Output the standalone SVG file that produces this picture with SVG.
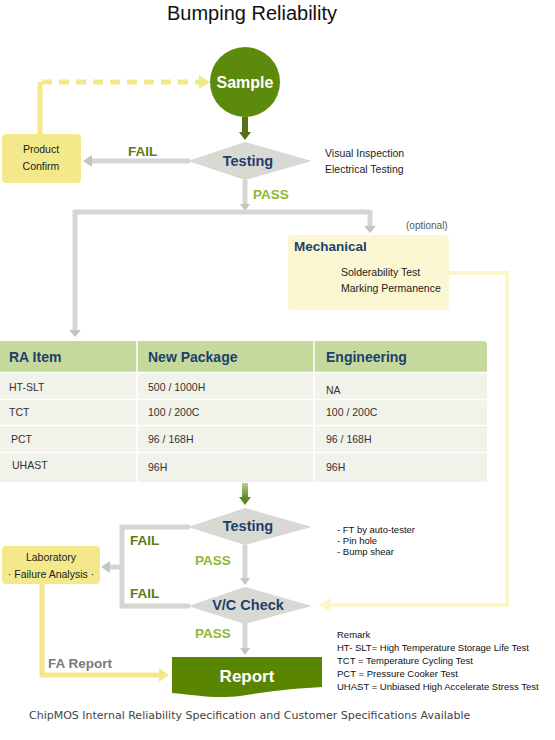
<svg xmlns="http://www.w3.org/2000/svg" width="555" height="740" viewBox="0 0 555 740">
<defs>
<style>
text{font-family:"Liberation Sans",Arial,sans-serif}
text.foot{font-family:"DejaVu Sans",Verdana,sans-serif;font-size:11px;fill:#444}
.dia{fill:#d9d9d3}
.dt{font-weight:bold;font-size:14.5px;fill:#1d3f6c;text-anchor:middle}
.fail{font-weight:bold;font-size:13.5px;fill:#5a7d14}
.pass{font-weight:bold;font-size:13.5px;fill:#8cb832}
.gl{stroke:#d5d5d1;stroke-width:5;fill:none}
.gh{fill:#c4c4c0}
.sm{font-size:10.5px;fill:#222}
.tiny{font-size:9.5px;fill:#111}
.th{font-weight:bold;font-size:14px;fill:#1d3f6c}
.td{font-size:10.5px;fill:#333}
.yb{fill:#f4e98a}
</style>
<linearGradient id="ga" x1="0" y1="0" x2="0" y2="1">
<stop offset="0" stop-color="#b9cf8a"/>
<stop offset="1" stop-color="#5f8a1f"/>
</linearGradient>
</defs>
<rect width="555" height="740" fill="#fff"/>
<text x="252" y="20" text-anchor="middle" fill="#111" style="font-size:20px">Bumping Reliability</text>

<g id="connectors">
<path d="M40,134 V82" stroke="#f4e98a" stroke-width="5" fill="none"/>
<path d="M42,82 H200" stroke="#f4e98a" stroke-width="5" fill="none" stroke-dasharray="10,7"/>
<polygon points="199,75 210,82 199,89" fill="#f4e98a"/>
<rect x="242" y="117" width="6" height="16" fill="#56701c"/>
<polygon points="239,132 251,132 245,140" fill="#56701c"/>
<path class="gl" d="M190,161 H92"/>
<polygon class="gh" points="92,155 83,161 92,167"/>
<path class="gl" d="M245,180 V205"/>
<polygon class="gh" points="240,204 250,204 245,211"/>
<path class="gl" d="M75,212 H370"/>
<path class="gl" d="M370,210 V226"/>
<polygon class="gh" points="364,226 376,226 370,233"/>
<path class="gl" d="M75,210 V330"/>
<polygon class="gh" points="69,330 81,330 75,337"/>
<path d="M449,273 H507 V605 H330" stroke="#fbf7cc" stroke-width="4" fill="none"/>
<polygon points="331,598 318,605 331,612" fill="#fbf7cc"/>
<rect x="242" y="483" width="6" height="15" fill="url(#ga)"/>
<polygon points="239,497 251,497 245,505" fill="#5f8a1f"/>
<path class="gl" d="M190,527 H122 V606 H190"/>
<path class="gl" d="M122,567 H110"/>
<polygon class="gh" points="110,561 101,567 110,573"/>
<path class="gl" d="M245,545 V579"/>
<polygon class="gh" points="240,578 250,578 245,585"/>
<path class="gl" d="M245,623 V649"/>
<polygon class="gh" points="240,648 250,648 245,655"/>
<path d="M42,584 V675 H160" stroke="#f4e98a" stroke-width="5" fill="none"/>
<polygon points="159,668 169,675 159,682" fill="#f4e98a"/>
</g>

<text class="fail" x="128" y="156">FAIL</text>
<text class="pass" x="253" y="199">PASS</text>
<text class="fail" x="130" y="545">FAIL</text>
<text class="pass" x="195" y="565">PASS</text>
<text class="fail" x="130" y="598">FAIL</text>
<text class="pass" x="195" y="638">PASS</text>
<text x="48" y="668" font-weight="bold" font-size="13.5" fill="#7a7a7a">FA Report</text>

<g id="sample">
<circle cx="245" cy="82" r="35" fill="#5b8a0c"/>
<text x="245" y="88" text-anchor="middle" font-weight="bold" font-size="16" fill="#fff">Sample</text>
</g>

<g id="product-confirm">
<rect class="yb" x="2" y="134" width="79" height="49" rx="4"/>
<text class="sm" x="41" y="153" text-anchor="middle">Product</text>
<text class="sm" x="41" y="170" text-anchor="middle">Confirm</text>
</g>

<g id="testing1">
<polygon class="dia" points="188,161 245,142 312,161 245,180"/>
<text class="dt" x="248" y="166">Testing</text>
</g>
<text class="sm" x="325" y="157">Visual Inspection</text>
<text class="sm" x="325" y="173">Electrical Testing</text>

<g id="mechanical">
<text x="406" y="229" font-size="10" fill="#555">(optional)</text>
<rect x="288" y="235" width="161" height="75" rx="4" fill="#faf7d2"/>
<text x="294" y="251" font-weight="bold" font-size="13.5" fill="#1d3f6c">Mechanical</text>
<text class="sm" x="341" y="276">Solderability Test</text>
<text class="sm" x="341" y="292">Marking Permanence</text>
</g>

<g id="ra-table">
<path d="M0,341 H483 Q487,341 487,345 V372 H0 Z" fill="#c6d99c"/>
<rect x="0" y="373" width="487" height="109" fill="#f1f2ea"/>
<g stroke="#fff" stroke-width="1.5">
<line x1="0" y1="399.5" x2="487" y2="399.5"/>
<line x1="0" y1="425.5" x2="487" y2="425.5"/>
<line x1="0" y1="452.5" x2="487" y2="452.5"/>
<line x1="0" y1="372.5" x2="487" y2="372.5"/>
<line x1="137" y1="341" x2="137" y2="482"/>
<line x1="314" y1="341" x2="314" y2="482"/>
</g>
<text class="th" x="9" y="362">RA Item</text>
<text class="th" x="148" y="362">New Package</text>
<text class="th" x="326" y="362">Engineering</text>
<text class="td" x="9" y="391">HT-SLT</text>
<text class="td" x="148" y="391">500 / 1000H</text>
<text class="td" x="326" y="394">NA</text>
<text class="td" x="9" y="416">TCT</text>
<text class="td" x="148" y="416">100 / 200C</text>
<text class="td" x="326" y="416">100 / 200C</text>
<text class="td" x="11" y="443">PCT</text>
<text class="td" x="148" y="443">96 / 168H</text>
<text class="td" x="326" y="443">96 / 168H</text>
<text class="td" x="12" y="469">UHAST</text>
<text class="td" x="148" y="471">96H</text>
<text class="td" x="326" y="471">96H</text>
</g>

<g id="testing2">
<polygon class="dia" points="188,527 245,508 312,527 245,545"/>
<text class="dt" x="248" y="531">Testing</text>
</g>
<text class="tiny" x="337" y="533">- FT by auto-tester</text>
<text class="tiny" x="337" y="544">- Pin hole</text>
<text class="tiny" x="337" y="555">- Bump shear</text>

<g id="vc-check">
<polygon class="dia" points="188,606 245,587 312,606 245,624"/>
<text class="dt" x="248" y="610">V/C Check</text>
</g>

<g id="laboratory">
<rect class="yb" x="2" y="546" width="98" height="38" rx="4"/>
<text class="sm" x="51" y="561" text-anchor="middle">Laboratory</text>
<text class="sm" x="51" y="578" text-anchor="middle">· Failure Analysis ·</text>
</g>

<g id="report">
<path d="M172,657 H322 V687 C300,688 270,691 240,696 C215,699 195,695 172,693 Z" fill="#5a8500"/>
<text x="247" y="682" text-anchor="middle" font-weight="bold" font-size="17" fill="#fff">Report</text>
</g>

<g id="remark">
<text class="tiny" x="337" y="638">Remark</text>
<text class="tiny" x="337" y="651">HT- SLT= High Temperature Storage Life Test</text>
<text class="tiny" x="337" y="664">TCT = Temperature Cycling Test</text>
<text class="tiny" x="337" y="677">PCT = Pressure Cooker Test</text>
<text class="tiny" x="337" y="690">UHAST = Unbiased High Accelerate Stress Test</text>
</g>

<text class="foot" x="29" y="719">ChipMOS Internal Reliability Specification and Customer Specifications Available</text>
</svg>
